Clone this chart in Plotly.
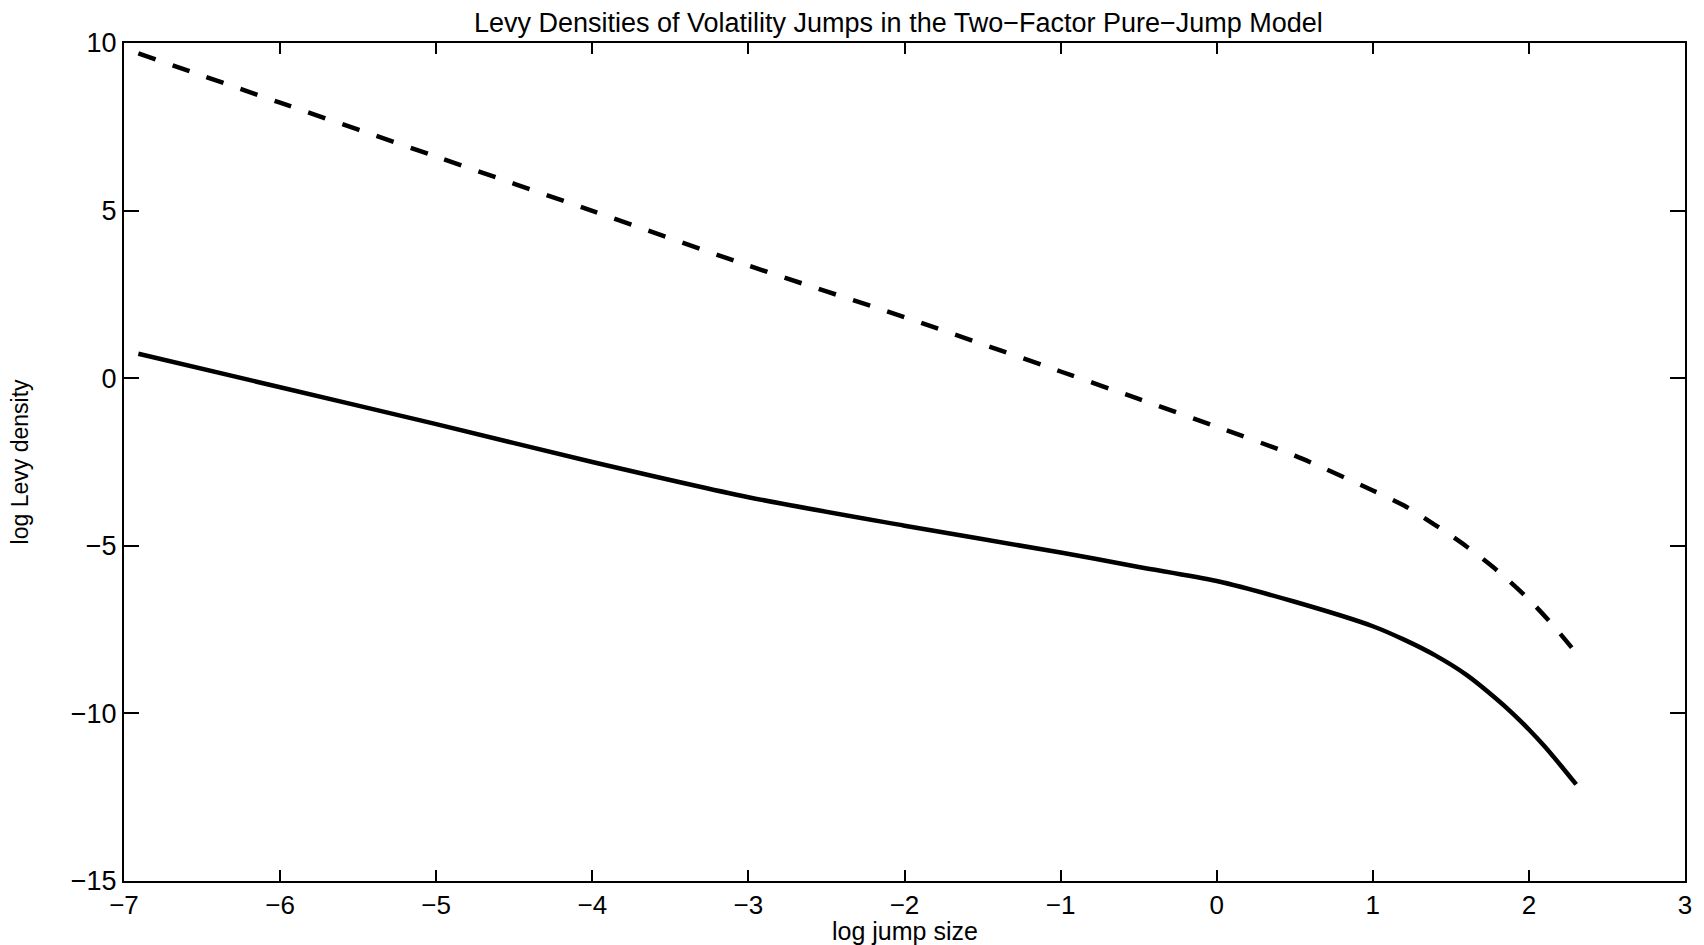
import plotly.graph_objects as go

# log jump size grid
x_solid = [-6.908, -6, -5, -4, -3, -2, -1, -0.5, 0, 0.5, 1, 1.2, 1.4, 1.6, 1.8, 1.9, 2.0, 2.1, 2.2, 2.303]
y_solid = [0.73, -0.27, -1.37, -2.5, -3.55, -4.4, -5.2, -5.63, -6.05, -6.67, -7.4, -7.8, -8.27, -8.85, -9.6, -10.02, -10.48, -10.98, -11.53, -12.12]

x_dashed = [-6.908, -6, -5, -4, -3, -2, -1, -0.5, 0, 0.5, 1, 1.2, 1.4, 1.6, 1.8, 2.0, 2.15, 2.303]
y_dashed = [9.69, 8.22, 6.61, 4.99, 3.36, 1.82, 0.2, -0.62, -1.45, -2.31, -3.35, -3.8, -4.38, -5.02, -5.75, -6.6, -7.35, -8.2]

x_ticks = [-7, -6, -5, -4, -3, -2, -1, 0, 1, 2, 3]
y_ticks = [-15, -10, -5, 0, 5, 10]

title_text = "Levy Densities of Volatility Jumps in the Two\u2212Factor Pure\u2212Jump Model"
x_label = "log jump size"
y_label = "log Levy density"

FONT = "Liberation Sans, Arial, Helvetica, sans-serif"

# page body adds an 8px margin, so the figure is made 8px smaller
W, H = 1696, 937
ML, MR, MT, MB = 116, 13, 35, 64
plot_w = W - ML - MR
plot_h = H - MT - MB

fig = go.Figure()
fig.add_trace(go.Scatter(x=x_solid, y=y_solid, mode="lines",
                         line=dict(color="black", width=4.5, shape="spline", smoothing=0.8),
                         showlegend=False, hoverinfo="skip"))
fig.add_trace(go.Scatter(x=x_dashed, y=y_dashed, mode="lines",
                         line=dict(color="black", width=4.5, dash="18px,18px", shape="spline", smoothing=0.8),
                         showlegend=False, hoverinfo="skip"))

fig.update_layout(
    width=W, height=H,
    margin=dict(l=ML, r=MR, t=MT, b=MB),
    paper_bgcolor="white", plot_bgcolor="white",
    font=dict(family=FONT, color="black", size=26),
    title=dict(text=title_text, x=0.525, xanchor="center", y=1 - 15 / H, yanchor="middle",
               font=dict(family=FONT, size=27, color="black")),
    annotations=[
        dict(text=x_label, xref="paper", yref="paper", x=0.5, y=-(923 - (H - MB)) / plot_h,
             xanchor="center", yanchor="middle", showarrow=False, font=dict(size=25)),
        dict(text=y_label, xref="paper", yref="paper", x=-(ML - 12) / plot_w, y=0.5,
             xanchor="center", yanchor="middle", textangle=-90, showarrow=False, font=dict(size=23)),
    ],
)
fig.update_xaxes(range=[-7, 3], tickvals=x_ticks, ticks="inside", ticklen=11, tickwidth=1.5,
                 tickcolor="black", showline=True, linecolor="black", linewidth=2, mirror="ticks",
                 showgrid=False, zeroline=False, tickfont=dict(size=26))
fig.update_yaxes(range=[-15, 10], tickvals=y_ticks, ticks="inside", ticklen=15, tickwidth=1.5,
                 tickcolor="black", showline=True, linecolor="black", linewidth=2, mirror="ticks",
                 showgrid=False, zeroline=False, tickfont=dict(size=27))

fig.write_html("out.html")
